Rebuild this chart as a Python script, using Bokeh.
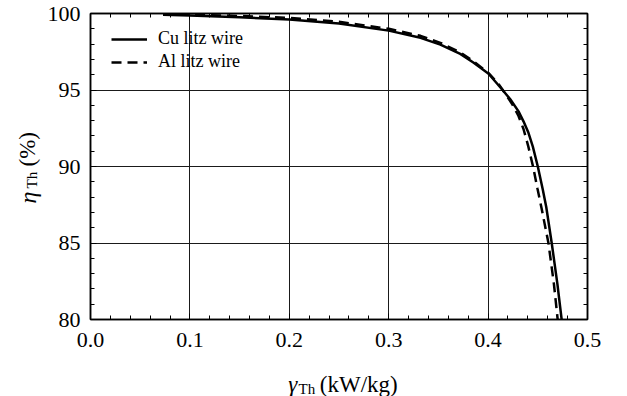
import numpy as np
from bokeh.plotting import figure
from bokeh.layouts import row, column
from bokeh.models import (SingleIntervalTicker, LinearAxis, Range1d, Label,
                          PrintfTickFormatter, CustomJSTickFormatter)
from bokeh.embed import file_html
from bokeh.resources import INLINE

# ---- data ----
cu_gamma = [0.073, 0.100, 0.150, 0.200, 0.250, 0.300, 0.332, 0.352, 0.372, 0.3855,
            0.4005, 0.4122, 0.4223, 0.4306, 0.4356, 0.4406, 0.4450, 0.4500, 0.4550,
            0.4585, 0.4640, 0.4697, 0.4740]
cu_eta = [99.92, 99.87, 99.76, 99.60, 99.34, 98.88, 98.41, 97.97, 97.36, 96.78,
          96.06, 95.18, 94.40, 93.60, 92.95, 92.20, 91.30, 90.00, 88.50,
          87.35, 85.00, 82.33, 80.00]

al_gamma = [0.073, 0.100, 0.150, 0.200, 0.250, 0.300, 0.332, 0.352, 0.372, 0.3855,
            0.4005, 0.4110, 0.4180, 0.4240, 0.4306, 0.4356, 0.4405, 0.4452, 0.4497,
            0.4540, 0.4607, 0.4662, 0.4700]
al_eta = [99.96, 99.93, 99.84, 99.71, 99.46, 99.00, 98.54, 98.08, 97.46, 96.86,
          96.10, 95.35, 94.70, 94.10, 93.30, 92.45, 91.30, 90.00, 88.55,
          87.20, 85.00, 82.33, 80.00]

series_names = ["Cu litz wire", "Al litz wire"]
x_limits = (0.0, 0.5)
y_limits = (80, 100)

FONT = "Liberation Serif"

# page layout: [y-title strip | (main plot / x-title strip)]
YT_W = 44
MAIN_W, MAIN_H = 627 - YT_W, 355
XT_H = 41
TOTAL_H = MAIN_H + XT_H

p = figure(width=MAIN_W, height=MAIN_H, output_backend="svg", toolbar_location=None,
           x_range=Range1d(*x_limits), y_range=Range1d(*y_limits),
           min_border_left=89 - YT_W, min_border_right=40, min_border_top=13,
           min_border_bottom=36, background_fill_color="white",
           border_fill_color="white")

p.outline_line_color = "black"
p.outline_line_width = 1.5

xt = SingleIntervalTicker(interval=0.1, num_minor_ticks=5)
yt = SingleIntervalTicker(interval=5, num_minor_ticks=5)


def style_axis(ax):
    ax.axis_line_color = "black"
    ax.axis_line_width = 1.5
    ax.major_tick_line_color = "black"
    ax.minor_tick_line_color = "black"
    ax.major_tick_line_width = 1
    ax.minor_tick_line_width = 1
    ax.major_tick_in = 6
    ax.major_tick_out = 0
    ax.minor_tick_in = 4
    ax.minor_tick_out = 0
    ax.major_label_text_font = FONT
    ax.major_label_text_color = "black"
    ax.major_label_text_font_size = "22px"


xa = p.xaxis[0]
xa.ticker = xt
xa.formatter = PrintfTickFormatter(format="%.1f")
style_axis(xa)
xa.major_label_standoff = 13

ya = p.yaxis[0]
ya.ticker = yt
ya.formatter = PrintfTickFormatter(format="%d")
style_axis(ya)
ya.major_label_standoff = 10

blank = CustomJSTickFormatter(code="return ''")
top = LinearAxis(ticker=SingleIntervalTicker(interval=0.1, num_minor_ticks=5),
                 formatter=blank)
style_axis(top)
top.major_label_standoff = 0
p.add_layout(top, "above")
right = LinearAxis(ticker=SingleIntervalTicker(interval=5, num_minor_ticks=5),
                   formatter=blank)
style_axis(right)
right.major_label_standoff = 0
p.add_layout(right, "right")

p.xgrid.ticker = xt
p.ygrid.ticker = yt
for g in (p.xgrid[0], p.ygrid[0]):
    g.grid_line_color = "#1a1a1a"
    g.grid_line_width = 1

p.line(cu_gamma, cu_eta, line_color="black", line_width=2.5,
       legend_label=series_names[0])
p.line(al_gamma, al_eta, line_color="black", line_width=2.5,
       line_dash="10 6", legend_label=series_names[1])

lg = p.legend[0]
lg.location = (11, 237)
lg.margin = 0
lg.padding = 10
lg.spacing = 2
lg.border_line_alpha = 0
lg.background_fill_alpha = 0
lg.glyph_width = 36
lg.glyph_height = 18
lg.label_height = 18
lg.label_standoff = 11
lg.label_text_font = FONT
lg.label_text_font_size = "18px"
lg.label_text_color = "black"


def strip(w, h, x0, y0):
    """A bare figure whose data units equal page pixels (y downwards)."""
    f = figure(width=w, height=h, output_backend="svg", toolbar_location=None,
               x_range=Range1d(x0, x0 + w), y_range=Range1d(y0 + h, y0),
               x_axis_type=None, y_axis_type=None,
               min_border_left=0, min_border_right=0, min_border_top=0,
               min_border_bottom=0, background_fill_color="white",
               border_fill_color="white")
    f.outline_line_color = None
    return f


# x-axis title: γ_Th (kW/kg)
xs = strip(MAIN_W, XT_H, YT_W, MAIN_H)
xs.add_layout(Label(x=276, y=384, text="γ", text_font=FONT,
                    text_font_style="italic", text_font_size="23px",
                    text_baseline="alphabetic", text_color="black"))
xs.add_layout(Label(x=288, y=388, text="Th", text_font=FONT,
                    text_font_size="15px", text_baseline="alphabetic",
                    text_color="black"))
xs.add_layout(Label(x=313, y=384, text="(kW/kg)", text_font=FONT,
                    text_font_size="23px", text_baseline="alphabetic",
                    text_color="black"))

# y-axis title: η_Th (%)
ys = strip(YT_W, TOTAL_H, 0, 0)
ys.add_layout(Label(x=27, y=203, text="η", text_font=FONT,
                    text_font_style="italic", text_font_size="24px",
                    text_baseline="alphabetic", angle=np.pi / 2,
                    text_color="black"))
ys.add_layout(Label(x=31, y=188, text="Th", text_font=FONT,
                    text_font_size="15px", text_baseline="alphabetic",
                    angle=np.pi / 2, text_color="black"))
ys.add_layout(Label(x=27, y=166, text="(%)", text_font=FONT,
                    text_font_size="23px", text_baseline="alphabetic",
                    angle=np.pi / 2, text_color="black"))

layout = row(ys, column(p, xs, spacing=0), spacing=0)

open("out.html", "w").write(file_html(layout, INLINE))
